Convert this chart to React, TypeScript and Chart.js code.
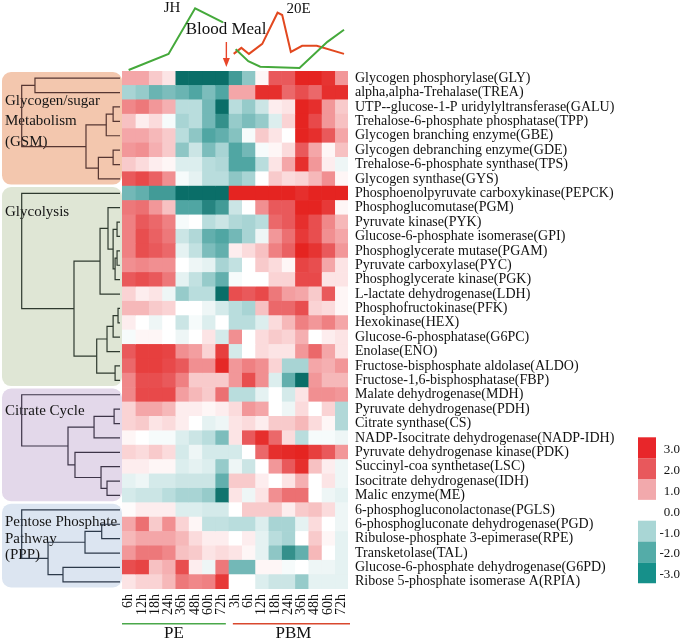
import React, { useEffect, useRef } from "react";
import { Chart, registerables } from "chart.js";

Chart.register(...registerables);

const FONT = '"Liberation Serif", "Times New Roman", serif';

// ---------- data ----------
const timeLabels = ["6h", "12h", "18h", "24h", "36h", "48h", "60h", "72h", "3h", "6h", "12h", "18h", "24h", "36h", "48h", "60h", "72h"];

const gsmEnzymes = [
  "Glycogen phosphorylase(GLY)",
  "alpha,alpha-Trehalase(TREA)",
  "UTP--glucose-1-P uridylyltransferase(GALU)",
  "Trehalose-6-phosphate phosphatase(TPP)",
  "Glycogen branching enzyme(GBE)",
  "Glycogen debranching enzyme(GDE)",
  "Trehalose-6-phosphate synthase(TPS)",
  "Glycogen synthase(GYS)",
];
const glycolysisEnzymes = [
  "Phosphoenolpyruvate carboxykinase(PEPCK)",
  "Phosphoglucomutase(PGM)",
  "Pyruvate kinase(PYK)",
  "Glucose-6-phosphate isomerase(GPI)",
  "Phosphoglycerate mutase(PGAM)",
  "Pyruvate carboxylase(PYC)",
  "Phosphoglycerate kinase(PGK)",
  "L-lactate dehydrogenase(LDH)",
  "Phosphofructokinase(PFK)",
  "Hexokinase(HEX)",
  "Glucose-6-phosphatase(G6PC)",
  "Enolase(ENO)",
  "Fructose-bisphosphate aldolase(ALDO)",
  "Fructose-1,6-bisphosphatase(FBP)",
];
const citrateEnzymes = [
  "Malate dehydrogenase(MDH)",
  "Pyruvate dehydrogenase(PDH)",
  "Citrate synthase(CS)",
  "NADP-Isocitrate dehydrogenase(NADP-IDH)",
  "Pyruvate dehydrogenase kinase(PDK)",
  "Succinyl-coa synthetase(LSC)",
  "Isocitrate dehydrogenase(IDH)",
  "Malic enzyme(ME)",
];
const pppEnzymes = [
  "6-phosphogluconolactonase(PGLS)",
  "6-phosphogluconate dehydrogenase(PGD)",
  "Ribulose-phosphate 3-epimerase(RPE)",
  "Transketolase(TAL)",
  "Glucose-6-phosphate dehydrogenase(G6PD)",
  "Ribose 5-phosphate isomerase A(RPIA)",
];

const gsmValues = [
  [1.0, 1.0, 0.6, 0.3, -3, -3, -3, -3, -2.2, -1.3, 0.1, 2.0, 2.0, 3, 3, 2.7, 1.2],
  [-1.0, -1.2, -1.7, -1.5, -1.7, -2.0, -1.5, -2.0, 1.0, 1.0, 2.8, 2.8, 1.8, 2.2, 1.8, 2.8, 2.8],
  [1.4, 1.6, 1.2, 0.9, -0.8, -0.8, -1.6, -3, -0.8, -1.2, -0.6, 0.2, 0.3, 3, 2.8, 1.2, 0.6],
  [0.7, 0.2, 0.4, -0.1, -1.0, -0.8, -1.6, -2.4, -1.2, -1.5, -1.2, -0.4, 0.5, 3, 2.3, 1.2, 0.7],
  [1.0, 1.0, 0.8, 0.6, -0.8, -1.3, -2.0, -1.8, -1.4, -0.1, 0.6, 0.3, 0, 3, 2.8, 2.0, 1.0],
  [1.2, 1.3, 0.9, 0.6, -1.3, -0.6, -1.5, -1.0, -2.0, -1.6, -0.1, 0.1, 0.4, 2.0, 1.0, 0.1, 0.7],
  [0.6, 0.4, 0.2, 0.1, -0.4, -0.4, -0.8, -0.9, -2.0, -2.0, -0.8, 0.3, 1.0, 2.8, 1.2, 0.2, -0.2],
  [2.0, 2.3, 1.9, 1.3, -0.1, -0.3, -0.8, -0.8, -1.3, -1.0, 0, 0.6, 0.4, 0.5, 0.8, 1.3, 0.1],
];
const glycolysisValues = [
  [-1.6, -1.8, -2.2, -2.2, -3, -3, -3, -3, 3, 3, 3, 3, 3, 2.8, 3, 3, 3],
  [1.6, 1.7, 1.2, 0.7, -2.0, -2.0, -2.6, -2.2, -0.6, 0, 1.3, 2.0, 2.0, 3, 3, 2.6, 0.1],
  [1.5, 2.0, 1.8, 1.5, -0.1, 0, -0.8, -0.6, -0.9, -1.0, -0.8, 1.8, 2.0, 2.8, 2.2, 1.4, 0.8],
  [1.5, 2.2, 1.9, 1.6, -0.6, -0.9, -1.8, -2.0, -1.6, -1.0, -0.2, 1.2, 1.7, 2.6, 2.2, 1.3, 1.0],
  [1.5, 2.2, 2.0, 1.8, -0.3, -0.7, -1.5, -1.8, 0.2, 0.4, 0.7, 1.5, 1.9, 3, 2.7, 2.0, 1.2],
  [1.3, 1.4, 1.3, 1.3, 0, -0.2, -0.3, -1.0, -0.7, 0, 0.6, 0.4, 0.1, 2.4, 2.2, 1.0, 0.3],
  [2.0, 2.2, 2.0, 1.6, -0.3, -0.7, -1.2, -1.8, -0.1, 0, 0, 0.5, 0.5, 2.3, 2.3, 0.3, 0.3],
  [0.5, 0.2, 0.3, -0.2, -1.2, -0.8, -0.8, -3, 2.2, 2.0, 2.3, 1.6, 1.1, 1.0, 0.6, 2.0, 0.1],
  [0.8, 0.8, 0.6, 0.5, 0, 0, -0.2, -0.5, -0.8, -1.0, 0.7, 1.8, 1.8, 2.2, 0.5, 0.4, 0.1],
  [0.2, 0, -0.2, 0, -0.6, -0.1, -0.4, 0, -0.8, -0.8, -0.4, 0.4, 0.8, 1.5, 1.2, 1.5, 1.0],
  [-0.1, 0.1, 0.1, 0, -0.2, 0, 0.3, -0.5, 1.3, 0, 0.4, 0.6, 0.5, 0.9, 0, 0.2, 0.3],
  [2.0, 2.5, 2.5, 2.4, 1.3, 1.1, 0.5, 2.5, -0.5, 0, 0.4, 0.3, 0.3, 1.2, 1.8, 1.0, 0.3],
  [1.8, 2.5, 2.5, 2.3, 2.0, 1.3, 1.3, 2.9, 1.2, 1.5, 1.3, 0.5, -1.0, -1.0, 1.0, 0.9, 1.2],
  [1.4, 2.2, 2.2, 2.0, 1.5, 0.6, 0.6, 0.6, 1.2, 2.2, 1.3, -0.4, -1.8, -3, 1.2, 0.8, 0.8],
];
const citrateValues = [
  [1.4, 2.3, 2.3, 2.3, 1.1, 0.8, 0.6, 1.7, -0.8, -0.8, -0.3, 0, -0.5, 0.3, 1.3, 1.3, 1.2],
  [0.5, 1.0, 1.0, 0.8, 0.2, 0.2, 0.1, 0.2, 0.4, 1.2, 1.0, 0, -0.2, 0.4, 0, 0.5, -0.9],
  [0.5, 0.6, 0.3, 0.4, 0.2, 0, -0.3, -0.2, 0.3, 0.4, 0.2, 0.6, 0.6, 0.8, 0.4, 0.1, -0.9],
  [0.1, 0, -0.1, -0.1, -0.4, -0.6, -0.8, -1.5, 0.3, 2.0, 2.8, 1.8, 0.4, -0.8, -0.1, -0.1, -0.2],
  [0.5, 0.4, 0.6, 0.4, -0.5, -0.2, -0.5, -0.5, -0.5, 0, 1.8, 2.8, 2.9, 3, 2.5, 2.0, 1.2],
  [0.2, 0.2, 0.1, 0.1, -0.4, -0.3, -0.4, -1.2, -0.2, -0.6, 0, 1.2, 2.0, 2.8, 0.7, 0.2, -0.2],
  [-0.3, -0.2, -0.5, -0.5, -0.6, -0.6, -0.6, -1.8, 0.6, 0.6, 0.2, 0, 0.3, 0.9, 0, 0.3, -0.2],
  [-0.5, -0.6, -0.6, -0.8, -1.0, -1.0, -1.2, -2.9, 0.3, -0.2, 0.3, 1.3, 1.7, 1.7, 0, -0.2, -0.3],
];
const pppValues = [
  [0.05, 0.2, 0.2, 0.2, -0.4, -0.4, -0.5, -0.5, 0, 0.6, 0.6, 0.6, 0.2, 0.6, 0.7, 0.4, -0.2],
  [1.0, 1.7, 0.6, 1.3, 0.5, 0.1, -0.7, -0.7, -0.8, -0.8, -0.4, -1.0, -1.0, -0.3, 0.4, 0, -0.2],
  [0.8, 1.0, 1.0, 1.0, 0.8, 0.4, 0.2, 0.2, 0, 0.2, -0.3, -0.8, -1.0, 0, 0.6, 0.1, -0.3],
  [1.2, 1.6, 1.6, 1.4, 0.7, 0.6, 0.3, 0.4, 0.3, 0.1, -0.3, -1.3, -2.4, -1.8, 0.8, 0, -0.3],
  [2.2, 2.4, 0.7, 0.9, 2.2, 0.2, -0.2, 1.6, -1.6, -1.6, 0.1, 0.1, -0.1, 0, -0.2, -0.2, -0.3],
  [0.3, 0.5, 0.5, 0.8, 1.6, 1.4, 1.5, 2.6, 0, 0, -0.4, -0.6, -0.6, -1.2, -0.3, -0.3, -0.3],
];

// dendrograms: [left, right, distance]; leaves are global row indices
const gsmTree = [[0, 1, 86.5], [[[2, 3, 7], 4, 14], [[5, 6, 7], 7, 22], 34.6], 100];
const glycolysisTree = [
  8,
  [
    [[9, [[10, 11, 3], [[12, 13, 3], 14, 5], 7], 12.2], 15, 20.3],
    [[[[16, 17, 2], 18, 7], 19, 13.2], [20, 21, 5], 23.7],
    46.8,
  ],
  100,
];
const citrateTree = [22, [[[23, 24, 6], 25, 26.4], [26, [27, [28, 29, 13.2], 19.3], 45.8], 52.9], 100];
const pppTree = [30, [[[31, 32, 18.6], 33, 35.6], [34, 35, 58], 73.2], 100];

// hormone titres (JH, 20E) vs time index
const jhTime = [0, 3, 5, 7.1, 7.5, 8.05, 9, 9.9, 12.85, 14.95, 16.2];
const jhLevel = [0.3, 2.7, 9.5, 7.4, null, 3.4, 1.6, 0.8, 0.6, 4.5, 6.3];
const ecdTime = [7.9, 8.48, 9.05, 10.05, 11.2, 11.55, 12.2, 13.05, 14.15, 16.2];
const ecdLevel = [2.7, 3.6, 2.7, 4.2, 8.85, 8.5, 3.0, 3.9, 3.9, 2.7];
const bloodMealTime = 7.35;

const legendValues = ["3.0", "2.0", "1.0", "0.0", "-1.0", "-2.0", "-3.0"];
const legendColors = ["#e8262a", "#e8585c", "#f2a9ac", null, "#a9d6d5", "#54aca8", "#16908a"];

// ---------- helpers ----------
const colorStops: [number, number[]][] = [
  [-3, [10, 110, 104]],
  [-2, [80, 166, 163]],
  [-1, [168, 212, 212]],
  [0, [255, 255, 255]],
  [1, [244, 166, 168]],
  [2, [233, 89, 91]],
  [3, [229, 36, 33]],
];
function heatColor(v: number) {
  const c = Math.max(-3, Math.min(3, v));
  for (let i = 0; i < colorStops.length - 1; i++) {
    const [a, ca] = colorStops[i];
    const [b, cb] = colorStops[i + 1];
    if (c >= a && c <= b) {
      const t = (c - a) / (b - a);
      const r = ca.map((x, k) => Math.round(x + (cb[k] - x) * t));
      return `rgb(${r[0]},${r[1]},${r[2]})`;
    }
  }
  return "#fff";
}

const groups = [
  { names: gsmEnzymes, tree: gsmTree, fill: "#f3c7ae", line: "#563632", title: ["Glycogen/sugar", "Metabolism", "(GSM)"], titleTop: 29, gap: 20.5 },
  { names: glycolysisEnzymes, tree: glycolysisTree, fill: "#dfe6d5", line: "#2f3a2f", title: ["Glycolysis"], titleTop: 24.5, gap: 20 },
  { names: citrateEnzymes, tree: citrateTree, fill: "#e3d8ea", line: "#3d3448", title: ["Citrate Cycle"], titleTop: 23, gap: 20 },
  { names: pppEnzymes, tree: pppTree, fill: "#dce5f1", line: "#2c394a", title: ["Pentose Phosphate", "Pathway", "(PPP)"], titleTop: 18.5, gap: 16.5 },
];

const allEnzymes = [...gsmEnzymes, ...glycolysisEnzymes, ...citrateEnzymes, ...pppEnzymes];
const allValues = [...gsmValues, ...glycolysisValues, ...citrateValues, ...pppValues];

const LEAF_X = 120;
const ROOT_X = 21.7;

function drawTree(ctx: CanvasRenderingContext2D, node: any, yScale: any): { x: number; y: number } {
  if (typeof node === "number") return { x: LEAF_X, y: yScale.getPixelForValue(node) };
  const [a, b, d] = node;
  const A = drawTree(ctx, a, yScale);
  const B = drawTree(ctx, b, yScale);
  const x = LEAF_X - (d / 100) * (LEAF_X - ROOT_X);
  ctx.beginPath();
  ctx.moveTo(A.x, A.y);
  ctx.lineTo(x, A.y);
  ctx.lineTo(x, B.y);
  ctx.lineTo(B.x, B.y);
  ctx.stroke();
  return { x, y: (A.y + B.y) / 2 };
}

const decorPlugin = {
  id: "decor",
  beforeDraw(chart: any) {
    const ctx = chart.ctx as CanvasRenderingContext2D;
    const y = chart.scales.y;
    const half = (y.getPixelForValue(1) - y.getPixelForValue(0)) / 2;
    let start = 0;
    ctx.save();
    groups.forEach((g) => {
      const top = y.getPixelForValue(start) - half + 1;
      const bottom = y.getPixelForValue(start + g.names.length - 1) + half - 1.5;
      ctx.fillStyle = g.fill;
      ctx.beginPath();
      (ctx as any).roundRect(2, top, 120, bottom - top, 9);
      ctx.fill();
      ctx.fillStyle = "#151515";
      ctx.font = `15px ${FONT}`;
      ctx.textAlign = "left";
      ctx.textBaseline = "middle";
      g.title.forEach((line, k) => ctx.fillText(line, 5, top + g.titleTop + k * g.gap));
      start += g.names.length;
    });
    ctx.restore();
  },
  afterDraw(chart: any) {
    const ctx = chart.ctx as CanvasRenderingContext2D;
    const y = chart.scales.y;
    const xt = chart.scales.xTime;
    ctx.save();
    ctx.lineWidth = 1.2;
    groups.forEach((g) => {
      ctx.strokeStyle = g.line;
      drawTree(ctx, g.tree, y);
    });

    // colour key
    const keyTop = 437.3;
    const slot = 20.85;
    ctx.font = `13px ${FONT}`;
    ctx.textAlign = "right";
    ctx.textBaseline = "middle";
    legendValues.forEach((lab, i) => {
      const c = legendColors[i];
      if (c) {
        ctx.fillStyle = c;
        ctx.fillRect(638, keyTop + i * slot, 18, slot);
      }
      ctx.fillStyle = "#111";
      ctx.fillText(lab, 680, keyTop + i * slot + slot / 2 + 2);
    });

    // PE / PBM brackets
    const w = xt.getPixelForValue(1) - xt.getPixelForValue(0);
    const peL = xt.getPixelForValue(0) - w / 2;
    const peR = xt.getPixelForValue(7) + w / 2 - 2.5;
    const pbL = xt.getPixelForValue(8) - w / 2 + 4.5;
    const pbR = xt.getPixelForValue(16) + w / 2 + 2;
    ctx.lineWidth = 1.6;
    ctx.strokeStyle = "#4aa84a";
    ctx.beginPath();
    ctx.moveTo(peL, 623.8);
    ctx.lineTo(peR, 623.8);
    ctx.stroke();
    ctx.strokeStyle = "#d9482e";
    ctx.beginPath();
    ctx.moveTo(pbL, 623.8);
    ctx.lineTo(pbR, 623.8);
    ctx.stroke();
    ctx.fillStyle = "#111";
    ctx.font = `17px ${FONT}`;
    ctx.textAlign = "center";
    ctx.textBaseline = "middle";
    ctx.fillText("PE", (peL + peR) / 2, 634);
    ctx.fillText("PBM", (pbL + pbR) / 2 + 2, 634);
    ctx.restore();
  },
};

const topPlugin = {
  id: "topNotes",
  afterDraw(chart: any) {
    const ctx = chart.ctx as CanvasRenderingContext2D;
    const x = chart.scales.x;
    ctx.save();
    ctx.fillStyle = "#111";
    ctx.textAlign = "center";
    ctx.textBaseline = "middle";
    ctx.font = `15px ${FONT}`;
    ctx.fillText("JH", 172, 8);
    ctx.fillText("20E", 298.5, 9);
    ctx.font = `17px ${FONT}`;
    ctx.fillText("Blood Meal", 226, 30);
    const ax = x.getPixelForValue(bloodMealTime);
    ctx.strokeStyle = "#e8452a";
    ctx.fillStyle = "#e8452a";
    ctx.lineWidth = 1.4;
    ctx.beginPath();
    ctx.moveTo(ax, 42);
    ctx.lineTo(ax, 60);
    ctx.stroke();
    ctx.beginPath();
    ctx.moveTo(ax - 3.5, 58);
    ctx.lineTo(ax + 3.5, 58);
    ctx.lineTo(ax, 67);
    ctx.closePath();
    ctx.fill();
    ctx.restore();
  },
};

export default function App() {
  const mainRef = useRef<HTMLCanvasElement>(null);
  const topRef = useRef<HTMLCanvasElement>(null);

  useEffect(() => {
    const datasets = timeLabels.map((t, j) => ({
      label: t,
      data: allEnzymes.map(() => 1),
      backgroundColor: allValues.map((row) => heatColor(row[j])),
      borderWidth: 0,
      barPercentage: 1,
      categoryPercentage: 1,
      stack: "cells",
      xAxisID: "x",
      yAxisID: "y",
    }));

    const main = new Chart(mainRef.current!, {
      type: "bar",
      data: { labels: allEnzymes, datasets },
      options: {
        indexAxis: "y",
        responsive: false,
        animation: false,
        layout: { padding: { left: 122, top: 71, right: 0, bottom: 0 } },
        plugins: { legend: { display: false }, tooltip: { enabled: false } },
        scales: {
          x: { type: "linear", stacked: true, min: 0, max: 17, display: false },
          xTime: {
            type: "category",
            labels: timeLabels,
            position: "bottom",
            offset: true,
            grid: { display: false, drawTicks: false },
            border: { display: false },
            ticks: { autoSkip: false, minRotation: 90, maxRotation: 90, padding: 5, color: "#111", font: { family: FONT, size: 14 } },
            afterFit: (s: any) => {
              s.height = 54;
            },
          },
          y: {
            type: "category",
            stacked: true,
            position: "right",
            offset: true,
            grid: { display: false, drawTicks: false },
            border: { display: false },
            ticks: { autoSkip: false, padding: 7, color: "#111", font: { family: FONT, size: 14 } },
            afterFit: (s: any) => {
              s.width = 337;
            },
          },
        },
      } as any,
      plugins: [decorPlugin],
    });

    const top = new Chart(topRef.current!, {
      type: "scatter",
      data: {
        datasets: [
          {
            label: "JH",
            data: jhTime.map((t, i) => ({ x: t, y: jhLevel[i] })),
            showLine: true,
            borderColor: "#45a93b",
            borderWidth: 2,
            pointRadius: 0,
            spanGaps: false,
          },
          {
            label: "20E",
            data: ecdTime.map((t, i) => ({ x: t, y: ecdLevel[i] })),
            showLine: true,
            borderColor: "#e2481f",
            borderWidth: 2,
            pointRadius: 0,
          },
        ],
      } as any,
      options: {
        responsive: false,
        animation: false,
        layout: { padding: { left: 122, right: 337, top: 5, bottom: 8 } },
        plugins: { legend: { display: false }, tooltip: { enabled: false } },
        scales: {
          x: { type: "linear", min: -0.5, max: 16.5, display: false },
          y: { type: "linear", min: 0, max: 10, display: false },
        },
      } as any,
      plugins: [topPlugin],
    });

    return () => {
      main.destroy();
      top.destroy();
    };
  }, []);

  return (
    <div style={{ position: "absolute", left: 0, top: 0, width: 685, height: 643, background: "#fff" }}>
      <canvas ref={mainRef} width={685} height={643} style={{ position: "absolute", left: 0, top: 0, width: 685, height: 643 }} />
      <canvas ref={topRef} width={685} height={80} style={{ position: "absolute", left: 0, top: 0, width: 685, height: 80, pointerEvents: "none" }} />
    </div>
  );
}
